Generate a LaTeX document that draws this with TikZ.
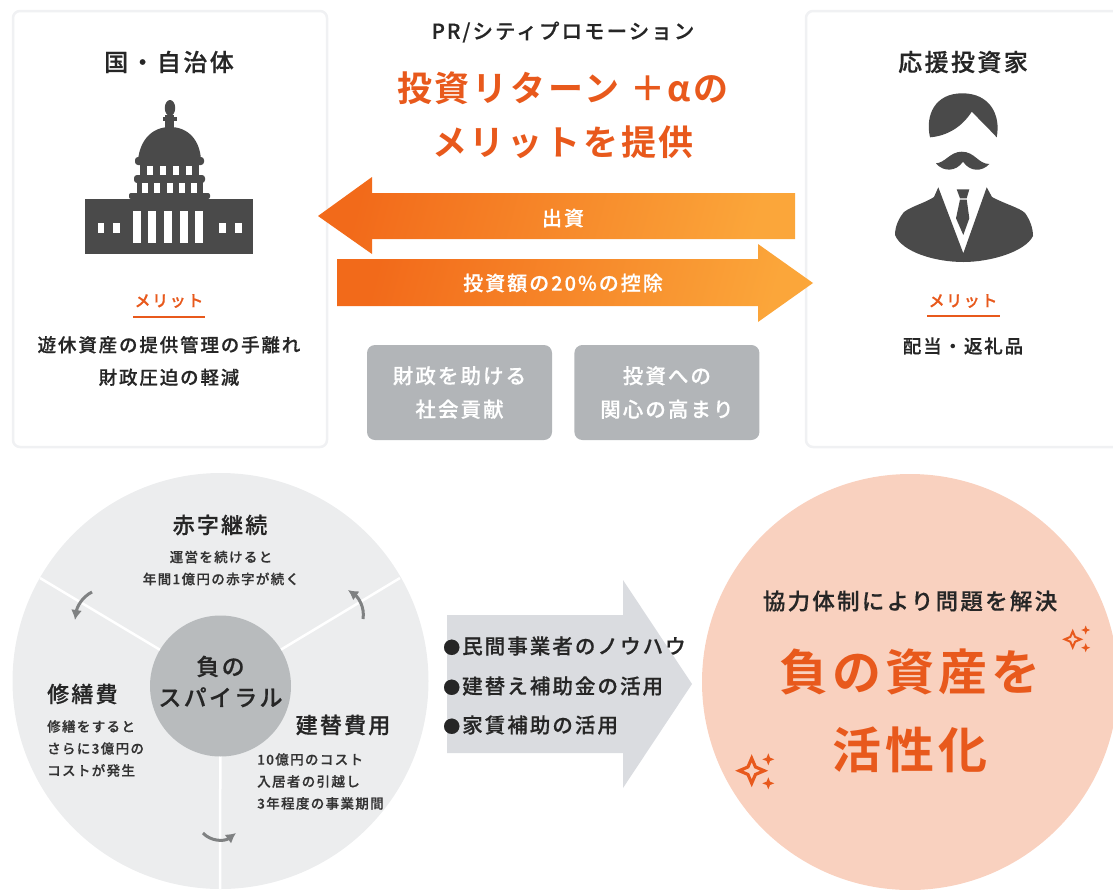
\documentclass[tikz,border=0pt]{standalone}
\usepackage{fontspec}
\setmainfont[LetterSpace=10,BoldFont={Noto Sans CJK JP Medium},BoldFeatures={FakeBold=0.5}]{Noto Sans CJK JP}
\newfontfamily\heavyfont[LetterSpace=8]{Noto Sans CJK JP Bold}
\usetikzlibrary{positioning,arrows.meta}
\definecolor{icongray}{HTML}{4A4A4A}
\definecolor{accent}{HTML}{E8591C}
\definecolor{cardline}{HTML}{F0F1F3}
\definecolor{tagfill}{HTML}{B2B5B8}
\definecolor{spiralfill}{HTML}{ECEDEE}
\definecolor{hubfill}{HTML}{B8BBBD}
\definecolor{turngray}{HTML}{7F8182}
\definecolor{peach}{HTML}{F9D1BF}
\definecolor{bigarrow}{HTML}{DADCE0}
\definecolor{arrowdark}{HTML}{F26A1A}
\definecolor{arrowmid}{HTML}{F8922C}
\definecolor{arrowlight}{HTML}{FBA63A}
\newcommand{\fsz}[1]{\fontsize{#1}{#1}\selectfont}
\newcommand{\sparkle}[3]{%
  \fill[accent] (#1,#2-#3) -- (#1+.28*#3,#2-.28*#3) -- (#1+#3,#2) -- (#1+.28*#3,#2+.28*#3) -- (#1,#2+#3)
    -- (#1-.28*#3,#2+.28*#3) -- (#1-#3,#2) -- (#1-.28*#3,#2-.28*#3) -- cycle;}
\newcommand{\sparkleopen}[3]{%
  \draw[accent,line width=.25*#3,fill=peach,line join=miter] (#1,#2-#3) -- (#1+.3*#3,#2-.3*#3) -- (#1+#3,#2) -- (#1+.3*#3,#2+.3*#3) -- (#1,#2+#3)
    -- (#1-.3*#3,#2+.3*#3) -- (#1-#3,#2) -- (#1-.3*#3,#2-.3*#3) -- cycle;}
\newcommand{\dotmark}{{\fsz{17}●}\hspace{2pt}}
\begin{document}
\begin{tikzpicture}[
x=1pt,y=-1pt,
node distance=22pt,
card/.style={rectangle, rounded corners=7pt, fill=white, draw=cardline, line width=2.5pt},
head/.style={font=\fsz{24}\bfseries, text=black!85},
subhead/.style={font=\fsz{22}\bfseries, text=black!85},
note/.style={align=center, font=\fsz{18.5}\bfseries, text=black!85},
merit/.style={font=\fsz{16}\bfseries, text=accent},
tag/.style={rectangle, rounded corners=8pt, fill=tagfill, text=white, align=center, minimum width=185pt, minimum height=95pt, font=\fsz{20.5}\bfseries},
flowtext/.style={text=white, font=\fsz{20}\bfseries},
small/.style={align=left, font=\fsz{13.5}\bfseries, text=black!80},
listitem/.style={font=\fsz{20.5}\bfseries, text=black!85, anchor=west, inner sep=0pt},
flowarrow/.style={left color=arrowdark, middle color=arrowmid, right color=arrowlight, shading angle=75},
turn/.style={draw=turngray, line width=3pt, -{Latex[length=10pt,width=11pt]}},
spoke/.style={draw=white, line width=2.5pt}
]
\useasboundingbox (0,0) rectangle (1113,889);

\draw[card] (13,11) rectangle (327,447);
\draw[card] (806,11) rectangle (1130,447);

\node[head] (govtitle) at (169,62) {国・自治体};
\node[head] (investtitle) at (963,62) {応援投資家};

\fill[icongray] (85,199) rectangle (253,254);
\fill[icongray, rounded corners=2pt] (129,199) -- (129,193) -- (210,193) -- (210,199) -- cycle;
\fill[icongray] (137,180) rectangle (203,195);
\fill[icongray, rounded corners=3pt] (134,175) rectangle (205,183);
\fill[icongray] (140,163) rectangle (199,177);
\fill[icongray, rounded corners=3pt] (135,157) rectangle (204,165);
\fill[icongray] (138,160) .. controls (140,140) and (152,127) .. (170,127) .. controls (188,127) and (200,140) .. (201,160) -- cycle;
\fill[icongray] (165,115) rectangle (174,130);
\fill[icongray] (163,117) rectangle (177,121);
\fill[icongray] (170,108) ellipse (5.2 and 8);
\foreach \wx in {146.7,159.7,172.7,185.7}
  \fill[white] (\wx,165.7) rectangle ++(6.6,9);
\foreach \wx in {142.3,154.3,166.7,178.7,191}
  \fill[white] (\wx,183.3) rectangle ++(6,10);
\foreach \wx in {132.7,148.3,164,179.7,195}
  \fill[white] (\wx,210.7) rectangle ++(8,32.6);
\foreach \wx in {97.7,113.3,219,235}
  \fill[white] (\wx,223.3) rectangle ++(6.6,9.4);

\fill[icongray] (930,137.3) .. controls (925,115) and (935,93.3) .. (962.3,93.3) .. controls (990,93.3) and (1001,115) .. (996.7,137.3) .. controls (988,128) and (980,120) .. (971.7,111.7) .. controls (962,127) and (947,136) .. (930,137.3) -- cycle;
\fill[icongray] (936,163.3) .. controls (945,163) and (950,151.7) .. (961.7,151.7) .. controls (975,151.7) and (978,164) .. (989.3,164) .. controls (982,172) and (970,172) .. (963,161.7) .. controls (956,172) and (943,172) .. (936,163.3) -- cycle;
\fill[icongray] (938.3,187.3) -- (963.3,253.3) -- (986.7,187.3) -- (992,197) .. controls (1005,204) and (1020,208) .. (1025,213) .. controls (1030,220) and (1033,228) .. (1033,236) .. controls (1025,252) and (990,262) .. (963.3,262) .. controls (935,262) and (902,252) .. (895,235) .. controls (895,226) and (899,218) .. (904,212) .. controls (912,206) and (925,203) .. (934,197) -- cycle;
\fill[icongray] (956.7,189.3) -- (969.3,189.3) -- (966.7,198.3) -- (960,198.3) -- cycle;
\fill[icongray] (960,199.5) -- (966.7,199.5) -- (969.3,218.3) -- (963.3,235) -- (956,218.3) -- cycle;

\node[merit] (meritgov) at (169,301) {メリット};
\draw[accent, line width=2pt] (133,317) -- (205,317);
\node[note] (govnote) at (169,361) {遊休資産の提供管理の手離れ\\[14pt]財政圧迫の軽減};

\node[merit] (meritinv) at (963,301) {メリット};
\draw[accent, line width=2pt] (927,316) -- (1000,316);
\node[note] (invnote) at (963,346) {配当・返礼品};

\node[font=\fsz{20.5}\bfseries, text=black!85] (prtitle) at (563,32) {PR/シティプロモーション};
\node[align=center, text=accent, font=\fsz{35}\heavyfont] (pitch) at (563,115) {投資リターン ＋αの\\[19pt]メリットを提供};

\shade[flowarrow] (318,216) -- (372,177) -- (372,193) -- (795,193) -- (795,239) -- (372,239) -- (372,254) -- cycle;
\shade[flowarrow] (337,259) -- (758,259) -- (758,244) -- (813,283) -- (758,322) -- (758,306) -- (337,306) -- cycle;
\node[flowtext] (fund) at (563,218) {出資};
\node[flowtext] (deduct) at (563,283) {投資額の20\%の控除};

\node[tag] (tagleft) at (459.5,392.5) {財政を助ける\\[13pt]社会貢献};
\node[tag, right=of tagleft] (tagright) {投資への\\[13pt]関心の高まり};

\fill[spiralfill] (220.5,681) circle (208);
\coordinate (spokeleft) at (40,578);
\coordinate (spokeright) at (400,578);
\coordinate (spokedown) at (220,889);
\node[circle, fill=hubfill, minimum size=141pt, inner sep=0pt] (hub) at (220.5,686) {};
\draw[spoke] (hub) -- (spokeleft);
\draw[spoke] (hub) -- (spokeright);
\draw[spoke] (hub) -- (spokedown);
\node[align=center, font=\fsz{23}\bfseries, text=black!85] (hublabel) at (220.5,681.5) {負の\\[8pt]スパイラル};

\coordinate (turnAa) at (92,592);
\coordinate (turnAb) at (75,620);
\coordinate (turnBa) at (363,619);
\coordinate (turnBb) at (348,590);
\coordinate (turnCa) at (203,833);
\coordinate (turnCb) at (236,833);
\draw[turn] (turnAa) .. controls (82,597) and (77,607) .. (turnAb);
\draw[turn] (turnBa) .. controls (365,607) and (358,597) .. (turnBb);
\draw[turn] (turnCa) .. controls (210,841) and (224,842) .. (turnCb);

\node[subhead] (deficit) at (220,525) {赤字継続};
\node[small, align=center] (deficitnote) at (221,568) {運営を続けると\\[8.5pt]年間1億円の赤字が続く};
\node[subhead, anchor=west, inner sep=0pt] (repair) at (47,694) {修繕費};
\node[small, anchor=north west, inner sep=0pt] (repairnote) at (47,720) {修繕をすると\\[8.5pt]さらに3億円の\\[8.5pt]コストが発生};
\node[subhead] (rebuild) at (343,725) {建替費用};
\node[small, anchor=north west, inner sep=0pt] (rebuildnote) at (257,753) {10億円のコスト\\[8.5pt]入居者の引越し\\[8.5pt]3年程度の事業期間};

\fill[bigarrow] (447,615) -- (623,615) -- (623,580) -- (692,684) -- (623,788) -- (623,753) -- (447,753) -- cycle;
\node[listitem] (know) at (443,646) {\dotmark 民間事業者のノウハウ};
\node[listitem] (subsidy) at (443,686) {\dotmark 建替え補助金の活用};
\node[listitem] (rent) at (443,725) {\dotmark 家賃補助の活用};

\fill[peach] (910,682) circle (208);
\node[font=\fsz{22.5}\bfseries, text=black!85] (solve) at (910,601) {協力体制により問題を解決};
\node[align=center, text=accent, font=\fsz{49}\heavyfont] (activate) at (910,711) {負の資産を\\[29pt]活性化};

\sparkleopen{1072.7}{639.3}{8}
\sparkle{1085.7}{630}{4.5}
\sparkle{1085.7}{647.7}{4.5}
\sparkleopen{751.7}{770.7}{12.5}
\sparkle{768.3}{759.3}{6}
\sparkle{768.3}{783.3}{6}

\end{tikzpicture}
\end{document}
